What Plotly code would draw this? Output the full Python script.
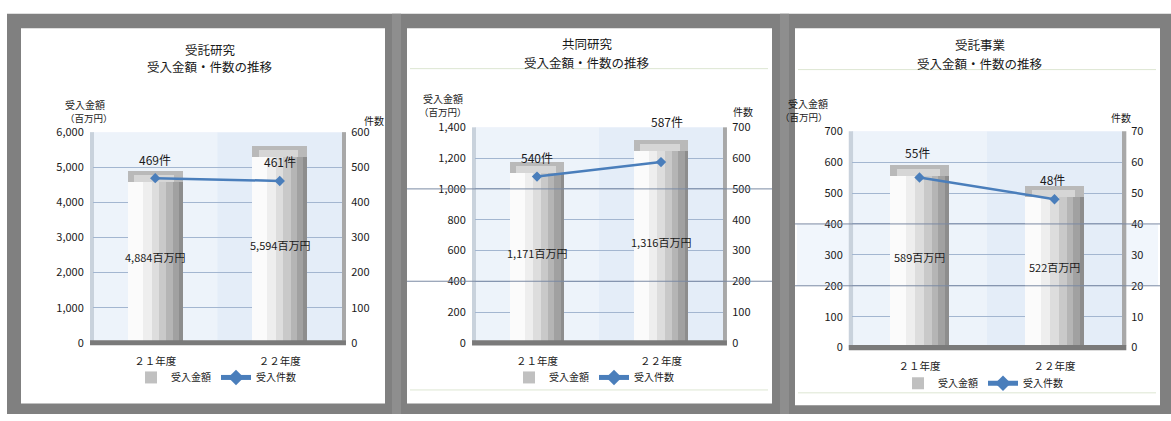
import plotly.graph_objects as go

# ---- data -------------------------------------------------------------
years = ["２１年度", "２２年度"]

title_kenkyu = "受託研究"
amount_kenkyu = [4884, 5594]      # 受入金額（百万円）
count_kenkyu = [469, 461]         # 受入件数

title_kyodo = "共同研究"
amount_kyodo = [1171, 1316]
count_kyodo = [540, 587]

title_jigyo = "受託事業"
amount_jigyo = [589, 522]
count_jigyo = [55, 48]

subtitle = "受入金額・件数の推移"
amount_name = "受入金額"
count_name = "受入件数"

# ---- page geometry (pixels) ------------------------------------------
W, H = 1171, 421
FONT = "Noto Sans CJK JP"
INK = "#1a1a1a"


def fx(px):
    return px / W


def fy(py):
    return 1 - py / H


panels = [
    dict(title=title_kenkyu, amount=amount_kenkyu, count=count_kenkyu,
         white=(21, 385, 20, 410), xdom=(93, 342), ydom=(347, 128),
         ymax=6000, dtick=1000, y2max=600, y2dtick=100,
         title_y=(42, 60), title_x=210, ytitle=(63, 89, 104), y2title=(362, 106),
         legend=(216, 383), count_shift=[(0, 19), (0, 19)],
         rules=[], band=None),
    dict(title=title_kyodo, amount=amount_kyodo, count=count_kyodo,
         white=(407, 772, 20, 410), xdom=(475, 723), ydom=(347, 123),
         ymax=1400, dtick=200, y2max=700, y2dtick=100,
         title_y=(36, 56), title_x=587, ytitle=(443, 83, 98), y2title=(743, 97),
         legend=(594, 383), count_shift=[(0, 19), (6, 41)],
         rules=[1000, 400], band=None, seps=(62, 396)),
    dict(title=title_jigyo, amount=amount_jigyo, count=count_jigyo,
         white=(795, 1160, 20, 412), xdom=(852, 1122), ydom=(352, 127),
         ymax=700, dtick=100, y2max=70, y2dtick=10,
         title_y=(37, 57), title_x=980, ytitle=(830, 88, 103), y2title=(1133, 103),
         legend=(983, 389), count_shift=[(-2, 25), (-2, 20)],
         rules=[400, 200], band=(200, 400), seps=(63, 399)),
]

# bar shading strips: (offset, width, colour) in category units
strips = [
    (-0.22, 0.12, "#fbfbfb"),
    (-0.10, 0.07, "#eeeeee"),
    (-0.03, 0.06, "#dddddd"),
    (0.03, 0.06, "#c9c9c9"),
    (0.09, 0.05, "#b5b5b5"),
    (0.14, 0.05, "#a1a1a1"),
    (0.19, 0.03, "#8d8d8d"),
]
BAR_W = 0.44
LINE_BLUE = "#4a7ebb"

fig = go.Figure()
shapes = []
annotations = []
layout = {}

# outer frame
shapes.append(dict(type="rect", xref="paper", yref="paper", x0=fx(7), x1=1, y0=0, y1=fy(5),
                   fillcolor="#808080", line=dict(width=0), layer="below"))
for sx in (396, 784):
    shapes.append(dict(type="rect", xref="paper", yref="paper", x0=fx(sx - 4), x1=fx(sx + 5),
                       y0=0, y1=fy(5), fillcolor="#8e8e8e", line=dict(width=0), layer="below"))

for i, p in enumerate(panels):
    n = i + 1
    xa = "x" if n == 1 else f"x{n}"
    ya_n, yb_n = 2 * n - 1, 2 * n
    ya = "y" if ya_n == 1 else f"y{ya_n}"
    yb = f"y{yb_n}"
    leg = "legend" if n == 1 else f"legend{n}"

    l, r, t, b = p["white"]
    shapes.append(dict(type="rect", xref="paper", yref="paper", x0=fx(l), x1=fx(r),
                       y0=fy(b), y1=fy(t), fillcolor="white", line=dict(width=0), layer="below"))
    if p.get("band"):
        lo, hi = p["band"]
        shapes.append(dict(type="rect", xref="paper", yref=ya, x0=fx(l + 2), x1=fx(r - 2),
                           y0=lo, y1=hi, fillcolor="#f1f6fc", line=dict(width=0), layer="below"))
    if p.get("seps"):
        for sy in p["seps"]:
            shapes.append(dict(type="line", xref="paper", yref="paper", x0=fx(l + 3), x1=fx(r - 4),
                               y0=fy(sy), y1=fy(sy), line=dict(color="#dde6d2", width=1)))

    # back wall, side wall and floor of the plot box
    shapes.append(dict(type="rect", xref=f"{xa} domain", yref=f"{ya} domain", x0=0, x1=1, y0=0, y1=1,
                       fillcolor="#e4edf8", line=dict(width=0), layer="below"))
    shapes.append(dict(type="rect", xref=f"{xa} domain", yref=f"{ya} domain", x0=0, x1=0.5, y0=0, y1=1,
                       fillcolor="rgba(255,255,255,0.35)", line=dict(width=0), layer="below"))
    shapes.append(dict(type="rect", xref=f"{xa} domain", yref=f"{ya} domain", x0=-0.012, x1=0.004,
                       y0=0, y1=1, fillcolor="#c9d2dc", line=dict(width=0), layer="below"))
    shapes.append(dict(type="rect", xref=f"{xa} domain", yref=f"{ya} domain", x0=1.0, x1=1.016,
                       y0=0.01, y1=1, fillcolor="#a8a8a8", line=dict(width=0), layer="below"))
    shapes.append(dict(type="rect", xref=f"{xa} domain", yref=f"{ya} domain", x0=-0.012, x1=1.016,
                       y0=-0.012, y1=0.012, fillcolor="#7a7a7a", line=dict(width=0), layer="above"))

    for v in p["rules"]:
        shapes.append(dict(type="line", xref="paper", yref=ya, x0=fx(l), x1=fx(r),
                           y0=v, y1=v, line=dict(color="#7b8aa3", width=1), layer="above"))

    amounts, counts = p["amount"], p["count"]

    # base bar carries the legend entry
    fig.add_trace(go.Bar(x=years, y=amounts, width=BAR_W, marker=dict(color="#c0c0c0", line=dict(width=0)),
                         name=amount_name, xaxis=xa, yaxis=ya, legend=leg, hoverinfo="skip"))
    for off, w, col in strips:
        fig.add_trace(go.Bar(x=years, y=amounts, offset=off, width=w,
                             marker=dict(color=col, line=dict(width=0)),
                             showlegend=False, xaxis=xa, yaxis=ya, hoverinfo="skip"))
    # bevelled top of each bar
    cap = p["ymax"] * 0.05
    fig.add_trace(go.Bar(x=years, y=[cap] * len(amounts), base=[a - cap for a in amounts],
                         width=BAR_W, marker=dict(color="#b9b9b9", line=dict(width=0)),
                         showlegend=False, xaxis=xa, yaxis=ya, hoverinfo="skip"))
    fig.add_trace(go.Bar(x=years, y=[cap * 0.65] * len(amounts), base=[a - cap for a in amounts],
                         offset=-0.17, width=0.32, marker=dict(color="#d6d6d6", line=dict(width=0)),
                         showlegend=False, xaxis=xa, yaxis=ya, hoverinfo="skip"))

    fig.add_trace(go.Scatter(x=years, y=counts, mode="lines+markers", name=count_name,
                             line=dict(color=LINE_BLUE, width=2.5),
                             marker=dict(symbol="diamond", size=8, color=LINE_BLUE),
                             xaxis=xa, yaxis=yb, legend=leg, hoverinfo="skip"))

    # value labels
    for j, (yr, a, c) in enumerate(zip(years, amounts, counts)):
        dx, dy = p["count_shift"][j]
        annotations.append(dict(x=yr, y=c, xref=xa, yref=yb, text=f"{c}件", showarrow=False,
                                xshift=dx, yshift=dy, font=dict(family=FONT, size=12, color=INK)))
        annotations.append(dict(x=yr, y=a / 2, xref=xa, yref=ya, text=f"{a:,}百万円", showarrow=False,
                                font=dict(family=FONT, size=11, color=INK)))

    # titles
    for k, line in enumerate([p["title"], subtitle]):
        annotations.append(dict(x=fx(p["title_x"]), y=fy(p["title_y"][k]), xref="paper", yref="paper",
                                text=line, showarrow=False, xanchor="center", yanchor="middle",
                                font=dict(family=FONT, size=12.5, color=INK)))
    tx, ty1, ty2 = p["ytitle"]
    annotations.append(dict(x=fx(tx), y=fy(ty1), xref="paper", yref="paper", text=amount_name,
                            showarrow=False, font=dict(family=FONT, size=10, color=INK)))
    annotations.append(dict(x=fx(tx), y=fy(ty2), xref="paper", yref="paper", text="（百万円）",
                            showarrow=False, font=dict(family=FONT, size=9.5, color=INK)))
    annotations.append(dict(x=fx(p["y2title"][0]), y=fy(p["y2title"][1]), xref="paper", yref="paper",
                            text="件数", showarrow=False, font=dict(family=FONT, size=10, color=INK)))

    x0, x1 = p["xdom"]
    y0, y1 = p["ydom"]
    tickfont = dict(family=FONT, size=11, color=INK)
    layout["xaxis" if n == 1 else f"xaxis{n}"] = dict(
        domain=[fx(x0), fx(x1)], anchor=ya, type="category", range=[-0.5, 1.5],
        showgrid=False, showline=False, ticks="", ticklabelstandoff=11,
        tickfont=dict(family=FONT, size=10.5, color=INK), fixedrange=True)
    layout["yaxis" if ya_n == 1 else f"yaxis{ya_n}"] = dict(
        domain=[fy(y0), fy(y1)], anchor=xa, range=[0, p["ymax"]], dtick=p["dtick"],
        tickformat=",", showgrid=True, gridcolor="#a3b6d0", gridwidth=1, zeroline=False,
        showline=False, ticks="outside", ticklen=6, tickcolor="rgba(0,0,0,0)",
        tickfont=tickfont, fixedrange=True)
    layout[f"yaxis{yb_n}"] = dict(
        domain=[fy(y0), fy(y1)], anchor=xa, overlaying=ya, side="right",
        range=[0, p["y2max"]], dtick=p["y2dtick"], showgrid=False, zeroline=False,
        showline=False, ticks="outside", ticklen=6, tickcolor="rgba(0,0,0,0)",
        tickfont=tickfont, fixedrange=True)
    layout[leg] = dict(x=fx(p["legend"][0]), y=fy(p["legend"][1]), xanchor="center", yanchor="middle",
                       orientation="h", bgcolor="rgba(0,0,0,0)",
                       font=dict(family=FONT, size=10, color=INK),
                       itemwidth=30, tracegroupgap=0, itemsizing="constant")

fig.update_layout(
    width=W, height=H, margin=dict(l=0, r=0, t=0, b=0),
    paper_bgcolor="white", plot_bgcolor="rgba(0,0,0,0)",
    barmode="overlay", bargap=0, showlegend=True,
    shapes=shapes, annotations=annotations,
    font=dict(family=FONT, color=INK),
    **layout,
)

fig.write_html("out.html")
